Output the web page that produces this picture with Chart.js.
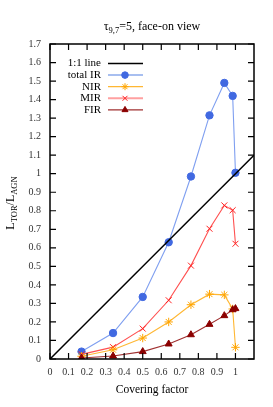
<!DOCTYPE html>
<html>
<head>
<meta charset="utf-8">
<script src="https://cdn.jsdelivr.net/npm/chart.js@4"></script>
<style>
  html, body { margin: 0; padding: 0; background: #fff; }
  #wrap { width: 273px; height: 407px; }
</style>
</head>
<body>
<div id="wrap"><canvas id="c"></canvas></div>
<script>
// covering factors (x) shared by all series
const coverFactor = [0.17, 0.34, 0.5, 0.64, 0.76, 0.86, 0.94, 0.985, 1.0];
const totalIR = [0.04, 0.14, 0.335, 0.63, 0.985, 1.315, 1.49, 1.42, 1.005];
const nirVals = [0.015, 0.05, 0.113, 0.2, 0.293, 0.35, 0.346, 0.27, 0.063];
const mirVals = [0.025, 0.064, 0.164, 0.317, 0.504, 0.703, 0.829, 0.803, 0.622];
const firVals = [0.005, 0.016, 0.04, 0.081, 0.131, 0.187, 0.234, 0.266, 0.272];
const oneToOne = [0, 1.1];
const xTicks = [0, 0.1, 0.2, 0.3, 0.4, 0.5, 0.6, 0.7, 0.8, 0.9, 1];

const SERIF = '"Liberation Serif", "DejaVu Serif", serif';

const pts = (xs, ys) => xs.map((x, i) => ({ x: x, y: ys[i] }));

// legend entries drawn gnuplot-style (text right, sample on the right)
const legendItems = [
  { label: '1:1 line', line: '#000000', width: 1.5 },
  { label: 'total IR', line: '#a8bff0', width: 2, marker: '#4169e1', style: 'circle', r: 3.3 },
  { label: 'NIR', line: '#ffb733', width: 1.2, marker: '#ffa500', style: 'star', r: 3.5 },
  { label: 'MIR', line: '#ffa0a0', width: 2, marker: '#ff2020', style: 'crossRot', r: 3.5 },
  { label: 'FIR', line: '#a03030', width: 1.2, marker: '#8b0000', style: 'triangle', r: 3.5 }
];

const framePlugin = {
  id: 'frame',
  afterDraw(chart) {
    const ctx = chart.ctx;
    const a = chart.chartArea;
    const xs = chart.scales.x, ys = chart.scales.y;
    ctx.save();
    ctx.strokeStyle = '#000';
    ctx.lineWidth = 1.5;
    ctx.strokeRect(a.left, a.top, a.right - a.left, a.bottom - a.top);
    // inward ticks, mirrored
    ctx.lineWidth = 1.2;
    ctx.beginPath();
    xTicks.forEach(v => {
      const px = xs.getPixelForValue(v);
      ctx.moveTo(px, a.bottom); ctx.lineTo(px, a.bottom - 6);
      ctx.moveTo(px, a.top); ctx.lineTo(px, a.top + 6);
    });
    for (let i = 0; i <= 17; i++) {
      const py = ys.getPixelForValue(i / 10);
      ctx.moveTo(a.left, py); ctx.lineTo(a.left + 6, py);
      ctx.moveTo(a.right, py); ctx.lineTo(a.right - 6, py);
    }
    ctx.stroke();

    // legend
    ctx.font = '11px ' + SERIF;
    ctx.textAlign = 'right';
    ctx.textBaseline = 'middle';
    legendItems.forEach((it, i) => {
      const y = 63.5 + i * 11.6;
      ctx.fillStyle = '#000';
      ctx.fillText(it.label, 101, y);
      ctx.strokeStyle = it.line;
      ctx.lineWidth = it.width;
      ctx.beginPath();
      ctx.moveTo(108, y); ctx.lineTo(143, y);
      ctx.stroke();
      if (it.marker) {
        ctx.fillStyle = it.marker;
        ctx.strokeStyle = it.marker;
        ctx.lineWidth = 1;
        Chart.helpers.drawPoint(ctx, { pointStyle: it.style, radius: it.r, rotation: 0, borderWidth: 1 }, 125, y);
      }
    });

    // title with subscript
    ctx.fillStyle = '#000';
    ctx.textBaseline = 'alphabetic';
    ctx.textAlign = 'left';
    const cx = (a.left + a.right) / 2;
    const big = '12px ' + SERIF, small = '8.5px ' + SERIF;
    const parts = [['τ', big, 0], ['9,7', small, 3], ['=5, face-on view', big, 0]];
    let w = 0;
    parts.forEach(p => { ctx.font = p[1]; w += ctx.measureText(p[0]).width; });
    let x = cx - w / 2;
    parts.forEach(p => { ctx.font = p[1]; ctx.fillText(p[0], x, 30 + p[2]); x += ctx.measureText(p[0]).width; });

    // x axis title
    ctx.font = '11.5px ' + SERIF;
    ctx.textAlign = 'center';
    ctx.fillText('Covering factor', cx, 393);

    // y axis title rotated with subscripts
    const yparts = [['L', big, 0], ['TOR', small, 3], ['/L', big, 0], ['AGN', small, 3]];
    w = 0;
    yparts.forEach(p => { ctx.font = p[1]; w += ctx.measureText(p[0]).width; });
    ctx.translate(14, 203);
    ctx.rotate(-Math.PI / 2);
    ctx.textAlign = 'left';
    x = -w / 2;
    yparts.forEach(p => { ctx.font = p[1]; ctx.fillText(p[0], x, p[2]); x += ctx.measureText(p[0]).width; });
    ctx.restore();
  }
};

const series = (label, ys, line, marker, style, r) => ({
  label: label,
  data: pts(coverFactor, ys),
  showLine: true,
  borderColor: line,
  borderWidth: 1.1,
  pointStyle: style,
  pointRadius: r,
  pointBackgroundColor: marker,
  pointBorderColor: marker,
  pointBorderWidth: 1,
  tension: 0
});

new Chart(document.getElementById('c'), {
  type: 'scatter',
  data: {
    datasets: [
      {
        label: '1:1 line',
        data: pts(oneToOne, oneToOne),
        showLine: true,
        borderColor: '#000',
        borderWidth: 1.5,
        pointRadius: 0
      },
      series('FIR', firVals, '#a03030', '#8b0000', 'triangle', 4),
      series('NIR', nirVals, '#ffb733', '#ffa500', 'star', 4.2),
      series('MIR', mirVals, '#ff5050', '#ff2020', 'crossRot', 4.2),
      series('total IR', totalIR, '#7f9ff0', '#4169e1', 'circle', 3.7)
    ]
  },
  options: {
    responsive: true,
    maintainAspectRatio: false,
    animation: false,
    layout: { padding: { top: 44, right: 19, left: 0, bottom: 0 } },
    plugins: {
      legend: { display: false },
      tooltip: { enabled: false }
    },
    scales: {
      x: {
        type: 'linear',
        min: 0,
        max: 1.1,
        afterFit: s => { s.height = 48; },
        afterBuildTicks: s => { s.ticks = xTicks.map(v => ({ value: v })); },
        grid: { display: false, drawTicks: false },
        border: { display: false },
        ticks: {
          padding: 7,
          color: '#333',
          font: { family: SERIF, size: 10 },
          maxRotation: 0,
          autoSkip: false,
          callback: v => String(Number(v.toFixed(1)))
        }
      },
      y: {
        min: 0,
        max: 1.7,
        afterFit: s => { s.width = 50; },
        grid: { display: false, drawTicks: false },
        border: { display: false },
        ticks: {
          stepSize: 0.1,
          padding: 9,
          color: '#333',
          font: { family: SERIF, size: 10 },
          autoSkip: false,
          callback: v => String(Number(v.toFixed(1)))
        }
      }
    }
  },
  plugins: [framePlugin]
});
</script>
</body>
</html>
